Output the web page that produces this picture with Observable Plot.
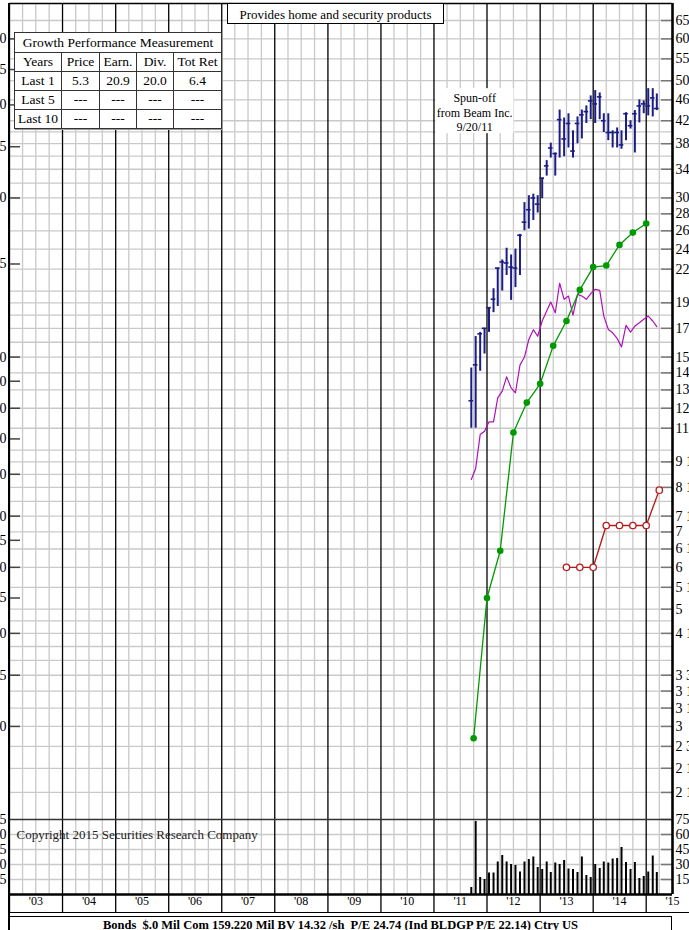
<!DOCTYPE html>
<html><head><meta charset="utf-8">
<script src="https://cdn.jsdelivr.net/npm/d3@7"></script>
<script src="https://cdn.jsdelivr.net/npm/@observablehq/plot@0.6"></script>
<style>
html,body{margin:0;padding:0;background:#fff;overflow:hidden;}
#chart{position:relative;width:689px;height:930px;overflow:hidden;background:#fff;font-family:"Liberation Serif","Times New Roman",serif;color:#000;}
#chart svg{position:absolute;left:0;}
#title{position:absolute;left:227px;top:3px;width:217px;height:21px;border:1px solid #000;background:#fff;font-size:13px;line-height:21px;text-align:center;box-sizing:border-box;}
#gpm{position:absolute;left:14px;top:32px;border-collapse:collapse;background:#fff;font-size:13.5px;box-shadow:1px 1px 0 #999;}
#gpm td{border:1px solid #333;padding:0;text-align:center;height:18px;line-height:18px;}
#rowline{position:absolute;left:9px;top:912px;width:680px;height:0;border-top:1.5px solid #000;}
#bottom{position:absolute;left:9px;top:916px;width:663px;height:24px;border:1.5px solid #000;box-sizing:border-box;font-weight:bold;font-size:12.5px;text-align:center;line-height:16px;white-space:pre;background:#fff;}
#leftline{position:absolute;left:8px;top:3px;width:2px;height:927px;background:#000;}
</style></head>
<body><div id="chart"></div>
<script>
// ---------------- data ----------------
const monthKeys = ["2011-09","2011-10","2011-11","2011-12",
  "2012-01","2012-02","2012-03","2012-04","2012-05","2012-06","2012-07","2012-08","2012-09","2012-10","2012-11","2012-12",
  "2013-01","2013-02","2013-03","2013-04","2013-05","2013-06","2013-07","2013-08","2013-09","2013-10","2013-11","2013-12",
  "2014-01","2014-02","2014-03","2014-04","2014-05","2014-06","2014-07","2014-08","2014-09","2014-10","2014-11","2014-12",
  "2015-01","2015-02","2015-03"];
const priceHigh = [14.3,16.4,16.7,17.0,18.6,20.2,22.1,22.9,24.1,23.4,24.0,25.6,29.4,30.3,30.5,30.3,32.7,35.3,38.1,36.5,44.0,42.5,43.3,40.2,42.7,44.0,44.8,46.8,47.9,47.4,43.3,43.3,40.2,40.7,40.2,43.5,42.0,43.9,46.0,45.8,48.3,48.3,47.2];
const priceLow = [11.0,11.0,14.1,15.2,16.7,18.2,18.7,20.0,21.4,19.2,20.3,21.4,26.0,26.2,27.2,28.1,29.9,33.0,35.7,33.0,35.7,35.9,37.3,35.7,38.0,38.8,41.5,42.2,41.5,42.2,39.9,38.5,37.3,37.3,37.1,38.5,40.5,36.5,41.6,43.3,42.9,42.7,43.9];
const priceClose = [12.4,14.5,16.6,17.0,18.6,19.3,22.1,22.7,22.6,22.2,22.1,25.5,27.0,28.5,30.0,29.2,32.7,34.5,37.3,36.4,42.2,38.8,41.5,36.8,41.5,43.1,43.7,45.8,45.2,46.6,42.0,39.9,39.9,39.9,37.8,43.3,41.1,43.3,44.8,45.2,44.8,46.4,44.3];
const volume = [7,73,17,15,21.5,21.5,32.5,39,32.5,30,29,22.5,32.5,35,37.5,27,25,32.5,22,31.5,30,34,25.5,25,22,37.5,19,17,30,26,32.5,31.5,35.5,36,47,32,25,32,16,18,22.5,38.5,22];
const relStrength = [8.80,9.23,10.70,10.86,11.31,11.31,12.56,12.93,13.76,13.11,12.84,14.48,15.0,16.20,16.90,16.42,17.55,18.33,19.07,18.19,20.69,19.29,19.57,18.01,19.71,19.57,19.29,19.77,20.15,20.06,17.93,16.92,16.67,16.27,15.68,17.22,16.72,17.17,17.42,17.68,17.93,17.55,17.12];

const earnQuarters = ["2011-10","2012-01","2012-04","2012-07","2012-10","2013-01","2013-04","2013-07","2013-10","2014-01","2014-04","2014-07","2014-10","2015-01"];
const earnings = [0.19,0.35,0.43,0.72,0.82,0.89,1.05,1.17,1.34,1.48,1.49,1.63,1.72,1.79];
const divQuarters = ["2013-07","2013-10","2014-01","2014-04","2014-07","2014-10","2015-01","2015-04"];
const dividends = [0.40,0.40,0.40,0.48,0.48,0.48,0.48,0.56];
const ratio = 15; // earnings / dividend scale = price / 15

const rightTickVals = [65,60,55,50,46,42,38,34,30,28,26,24,22,19,17,15,14,13,12,11,9.5,8.5,7.5,7,6.5,6,5.5,5,4.5,3.75,3.5,3.25,3,2.75,2.5,2.25];
const rightTickLabels = ["65","60","55","50","46","42","38","34","30","28","26","24","22","19","17","15","14","13","12","11","9 1/2","8 1/2","7 1/2","7","6 1/2","6","5 1/2","5","4 1/2","3 3/4","3 1/2","3 1/4","3","2 3/4","2 1/2","2 1/4"];
const leftTickVals = [4.0,3.5,3.0,2.5,2.0,1.5,1.0,0.9,0.8,0.7,0.6,0.5,0.45,0.4,0.35,0.3,0.25,0.2];
const leftTickLabels = ["4.0","3.5","3.0","2.5","2.0","1.5","1.0",".90",".80",".70",".60",".50",".45",".40",".35",".30",".25",".20"];
const gridVals = [65,60,55,50,46,42,40,38,36,34,32,30,28,26,24,22,20,19,18,17,16,15,14,13,12,11,10,9.5,9,8.5,8,7.5,7,6.5,6,5.5,5,4.75,4.5,4.25,4,3.75,3.5,3.25,3,2.75,2.5,2.25];
const volTickVals = [75,60,45,30,15];
const volTickLabels = ["75","60","45","30","15"];
const yearLabels = ["'03","'04","'05","'06","'07","'08","'09","'10","'11","'12","'13","'14","'15"];
const yearNums = [2003,2004,2005,2006,2007,2008,2009,2010,2011,2012,2013,2014,2015];

const titleText = "Provides home and security products";
const copyrightText = "Copyright 2015 Securities Research Company";
const spinText = "Spun-off\nfrom Beam Inc.\n9/20/11";
const bottomText = "Bonds  $.0 Mil Com 159.220 Mil BV 14.32 /sh  P/E 24.74 (Ind BLDGP P/E 22.14) Ctry US";
const gpmHeader = ["Years","Price","Earn.","Div.","Tot Ret"];
const gpmRows = [["Last 1","5.3","20.9","20.0","6.4"],["Last 5","---","---","---","---"],["Last 10","---","---","---","---"]];

// ---------------- build ----------------
const ym = (s, day) => { const [y, m] = s.split("-").map(Number); return new Date(Date.UTC(y, m - 1, day)); };
const bars = monthKeys.map((k, i) => ({date: ym(k, 15), high: priceHigh[i], low: priceLow[i], close: priceClose[i], vol: volume[i], rs: relStrength[i]}));
const earn = earnQuarters.map((k, i) => ({date: ym(k, 1), v: earnings[i] * ratio}));
const divs = divQuarters.map((k, i) => ({date: ym(k, 1), v: dividends[i] * ratio}));
const rightTicks = rightTickVals.map((v, i) => ({v, label: rightTickLabels[i]}));
const leftTicks = leftTickVals.map((v, i) => ({v: v * ratio, label: leftTickLabels[i]}));
const volTicks = volTickVals.map((v, i) => ({v, label: volTickLabels[i]}));

const x0 = new Date(Date.UTC(2003, 0, 1)), x1 = new Date(Date.UTC(2015, 6, 1));
const yearLines = yearNums.map(y => new Date(Date.UTC(y, 0, 1))).concat([new Date(Date.UTC(2015,0,1))]).filter((d,i,a)=>a.findIndex(e=>+e===+d)===i);
const quarterLines = d3.utcMonth.every(3).range(x0, x1).filter(d => d.getUTCMonth() !== 0);
const yearMids = yearNums.map((y, i) => ({date: new Date(Date.UTC(y, 6, 1)), label: yearLabels[i]}));

const navy = "#1c1c86", green = "#009a00", magenta = "#b010b8", red = "#b81c1c", grid = "#c9c9c9";
const font = "'Liberation Serif','Times New Roman',serif";

const price = Plot.plot({
  width: 689, height: 819, marginLeft: 9, marginRight: 17, marginTop: 3, marginBottom: 0,
  x: {type: "utc", domain: [x0, x1], axis: null},
  y: {type: "log", domain: [2, 70], axis: null},
  style: {fontFamily: font, background: "transparent", overflow: "visible"},
  marks: [
    Plot.ruleY(gridVals, {stroke: grid, strokeWidth: 1.3}),
    Plot.ruleX(quarterLines, {stroke: grid, strokeWidth: 1.3}),
    Plot.ruleX(yearLines, {stroke: "#000", strokeWidth: 1.3}),
    Plot.ruleY(leftTicks, {y: "v", stroke: "#444", strokeWidth: 1.5, insetRight: 652}),
    Plot.ruleY(rightTicks, {y: "v", stroke: "#777", strokeWidth: 1.5, insetLeft: 652}),
    Plot.rect([{x1: new Date(Date.UTC(2011,0,14)), x2: new Date(Date.UTC(2012,6,5)), y1: 39.7, y2: 48.3}], {x1: "x1", x2: "x2", y1: "y1", y2: "y2", fill: "#fff"}),
    Plot.text([{date: new Date(Date.UTC(2011,9,8)), v: 43.6, t: spinText}], {x: "date", y: "v", text: "t", fontSize: 12, lineHeight: 1.2, fill: "#000"}),
    Plot.line(bars, {x: "date", y: "rs", stroke: magenta, strokeWidth: 1.2}),
    Plot.line(earn, {x: "date", y: "v", stroke: green, strokeWidth: 1.3}),
    Plot.dot(earn, {x: "date", y: "v", r: 3.3, fill: green}),
    Plot.line(divs, {x: "date", y: "v", stroke: red, strokeWidth: 1.4}),
    Plot.dot(divs, {x: "date", y: "v", r: 3.2, fill: "#fff", stroke: red, strokeWidth: 1.3}),
    Plot.ruleX(bars, {x: "date", y1: "low", y2: "high", stroke: navy, strokeWidth: 2}),
    Plot.ruleY(bars, {y: "close", x1: d => d3.utcDay.offset(d.date, -16), x2: d => d3.utcDay.offset(d.date, 16), stroke: navy, strokeWidth: 1.6}),
    Plot.text(rightTicks, {y: "v", text: "label", frameAnchor: "right", dx: 3, textAnchor: "start", fontSize: 14, fill: "#000"}),
    Plot.text(leftTicks, {y: "v", text: "label", frameAnchor: "left", dx: -3, textAnchor: "end", fontSize: 14, fill: "#000"}),
    Plot.ruleY([70], {stroke: "#000", strokeWidth: 1.6}),
    Plot.ruleX([x1], {stroke: "#000", strokeWidth: 2.6})
  ]
});

const vol = Plot.plot({
  width: 689, height: 111, marginLeft: 9, marginRight: 17, marginTop: 0, marginBottom: 17,
  x: {type: "utc", domain: [x0, x1], axis: null},
  y: {domain: [0, 75], range: [75, 0], axis: null},
  style: {fontFamily: font, background: "transparent", overflow: "visible"},
  marks: [
    Plot.ruleY([15, 30, 45, 60], {stroke: grid, strokeWidth: 1.3}),
    Plot.ruleX(quarterLines, {y1: 0, y2: 75, stroke: grid, strokeWidth: 1.3}),
    Plot.ruleX(yearLines, {stroke: "#000", strokeWidth: 1.3}),
    Plot.ruleY(volTicks, {y: "v", stroke: "#777", strokeWidth: 1.5, insetLeft: 652}),
    Plot.ruleY([75], {stroke: "#333", strokeWidth: 1.6}),
    Plot.text([copyrightText], {text: d => d, frameAnchor: "top-left", dx: 7, dy: 10, textAnchor: "start", fontSize: 13, fill: "#222"}),
    Plot.ruleX(bars, {x: "date", y1: 0, y2: "vol", stroke: "#000", strokeWidth: 2}),
    Plot.ruleY([0], {stroke: "#000", strokeWidth: 2.6}),
    Plot.ruleX([x1], {y1: 0, y2: 75, stroke: "#000", strokeWidth: 2.6}),
    Plot.text(volTicks, {y: "v", text: "label", frameAnchor: "right", dx: 3, textAnchor: "start", fontSize: 14, fill: "#000"}),
    Plot.text(volTicks, {y: "v", text: "label", frameAnchor: "left", dx: -3, textAnchor: "end", fontSize: 14, fill: "#000"}),
    Plot.text(yearMids, {x: "date", text: "label", frameAnchor: "bottom", dy: -9, fontSize: 12, fill: "#000"})
  ]
});

const chart = document.getElementById("chart");
price.style.top = "0px";
vol.style.top = "819px";
chart.appendChild(price);
chart.appendChild(vol);

const line = document.createElement("div"); line.id = "leftline"; chart.appendChild(line);
const rl = document.createElement("div"); rl.id = "rowline"; chart.appendChild(rl);
const bt = document.createElement("div"); bt.id = "bottom"; bt.textContent = bottomText; chart.appendChild(bt);
const tt = document.createElement("div"); tt.id = "title"; tt.textContent = titleText; chart.appendChild(tt);

const tbl = document.createElement("table"); tbl.id = "gpm";
const widths = [46, 37, 36, 36, 47];
let tr = tbl.insertRow(); let c = tr.insertCell(); c.colSpan = 5; c.textContent = "Growth Performance Measurement"; c.style.height = "19px";
tr = tbl.insertRow(); gpmHeader.forEach((h, i) => { const td = tr.insertCell(); td.textContent = h; td.style.width = widths[i] + "px"; });
gpmRows.forEach(r => { const row = tbl.insertRow(); r.forEach(v => { row.insertCell().textContent = v; }); });
chart.appendChild(tbl);
</script>
</body></html>
